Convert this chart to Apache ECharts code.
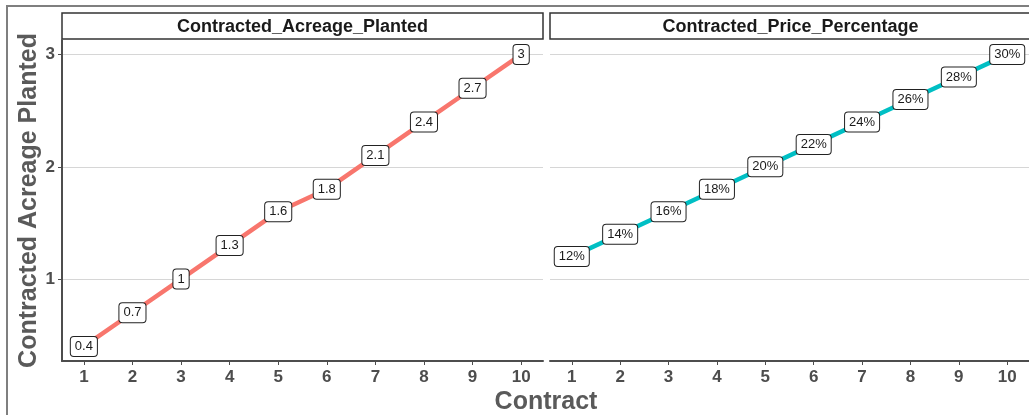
<!DOCTYPE html>
<html>
<head>
<meta charset="utf-8">
<script src="https://cdn.jsdelivr.net/npm/echarts@6/dist/echarts.min.js"></script>
<style>
  html, body { margin: 0; padding: 0; background: #fff; }
  #chart { width: 1029px; height: 415px; }
</style>
</head>
<body>
<div id="chart"></div>
<script>
// Contract number on the x axis
const contracts = [1, 2, 3, 4, 5, 6, 7, 8, 9, 10];
// Acreage planted under contract, per contract
const acreagePlanted = [0.4, 0.7, 1, 1.3, 1.6, 1.8, 2.1, 2.4, 2.7, 3];
// Share of the contracted price, per contract (fractions)
const pricePercentage = [0.12, 0.14, 0.16, 0.18, 0.20, 0.22, 0.24, 0.26, 0.28, 0.30];
// Axis ticks
const xTicks = [1, 2, 3, 4, 5, 6, 7, 8, 9, 10];
const yTicks = [1, 2, 3];
const pctTicks = [0.1, 0.2, 0.3];
// Facet strip titles
const facetTitles = ['Contracted_Acreage_Planted', 'Contracted_Price_Percentage'];

const FONT = '"Liberation Sans", Arial, sans-serif';
const AXIS_GREY = '#4d4d4d';
const GRID_GREY = '#d6d6d6';

const panelLeft = [62, 550];
const panelWidth = 481;
const panelTop = 40;
const panelHeight = 321;

const chart = echarts.init(document.getElementById('chart'));

function xAxisFor(gridIndex) {
  return {
    type: 'value', gridIndex: gridIndex, min: 0.55, max: 10.45,
    axisLine: { show: true, onZero: false, lineStyle: { color: AXIS_GREY, width: 2 } },
    axisTick: { show: true, customValues: xTicks, length: 4, lineStyle: { color: AXIS_GREY, width: 1 } },
    axisLabel: { show: true, customValues: xTicks, margin: 8, color: AXIS_GREY, fontSize: 17, fontWeight: 'bold', fontFamily: FONT },
    splitLine: { show: false }
  };
}

function labelStyle(formatter) {
  return {
    show: true, position: 'inside', formatter: formatter,
    color: '#1a1a1a', fontSize: 13, fontFamily: FONT,
    backgroundColor: '#ffffff', borderColor: '#222', borderWidth: 1, borderRadius: 3,
    padding: [3, 4, 3, 4]
  };
}

const option = {
  animation: false,
  backgroundColor: '#ffffff',
  grid: [
    { left: panelLeft[0], top: panelTop, width: panelWidth, height: panelHeight },
    { left: panelLeft[1], top: panelTop, width: panelWidth, height: panelHeight }
  ],
  xAxis: [xAxisFor(0), xAxisFor(1)],
  yAxis: [
    {
      type: 'value', gridIndex: 0, min: 0.27, max: 3.13,
      name: 'Contracted Acreage Planted', nameLocation: 'middle', nameGap: 19,
      nameTextStyle: { color: '#5a5a5a', fontSize: 25, fontWeight: 'bold', fontFamily: FONT },
      axisLine: { show: true, onZero: false, lineStyle: { color: AXIS_GREY, width: 2 } },
      axisTick: { show: true, customValues: yTicks, length: 4, lineStyle: { color: AXIS_GREY, width: 1 } },
      axisLabel: { show: true, customValues: yTicks, margin: 7, color: AXIS_GREY, fontSize: 17, fontWeight: 'bold', fontFamily: FONT },
      splitLine: { show: true, lineStyle: { color: GRID_GREY, width: 1 } }
    },
    {
      type: 'value', gridIndex: 1, min: 0.027, max: 0.313,
      axisLine: { show: false }, axisTick: { show: false, customValues: pctTicks },
      axisLabel: { show: false, customValues: pctTicks },
      splitLine: { show: true, lineStyle: { color: GRID_GREY, width: 1 } }
    }
  ],
  series: [
    {
      type: 'line', xAxisIndex: 0, yAxisIndex: 0,
      data: contracts.map((c, i) => [c, acreagePlanted[i]]),
      symbol: 'circle', symbolSize: 1,
      itemStyle: { color: '#F8766D' },
      lineStyle: { color: '#F8766D', width: 4.5 },
      label: labelStyle(p => String(p.value[1]))
    },
    {
      type: 'line', xAxisIndex: 1, yAxisIndex: 1,
      data: contracts.map((c, i) => [c, pricePercentage[i]]),
      symbol: 'circle', symbolSize: 1,
      itemStyle: { color: '#00BFC4' },
      lineStyle: { color: '#00BFC4', width: 4.5 },
      label: labelStyle(p => Math.round(p.value[1] * 100) + '%')
    }
  ],
  graphic: [
    // outer frame
    { type: 'rect', shape: { x: 7, y: 6, width: 1100, height: 500 },
      style: { fill: 'none', stroke: '#7f7f7f', lineWidth: 2 }, silent: true },
    // facet strips
    { type: 'rect', shape: { x: panelLeft[0], y: 13, width: panelWidth, height: 26 },
      style: { fill: '#ffffff', stroke: '#333', lineWidth: 1.5 }, silent: true },
    { type: 'rect', shape: { x: panelLeft[1], y: 13, width: panelWidth, height: 26 },
      style: { fill: '#ffffff', stroke: '#333', lineWidth: 1.5 }, silent: true },
    { type: 'text', x: panelLeft[0] + panelWidth / 2, y: 27,
      style: { text: facetTitles[0], fill: '#1a1a1a', font: 'bold 18px ' + FONT, align: 'center', verticalAlign: 'middle' } },
    { type: 'text', x: panelLeft[1] + panelWidth / 2, y: 27,
      style: { text: facetTitles[1], fill: '#1a1a1a', font: 'bold 18px ' + FONT, align: 'center', verticalAlign: 'middle' } },
    // shared x axis title
    { type: 'text', x: 546, y: 402,
      style: { text: 'Contract', fill: '#5a5a5a', font: 'bold 25px ' + FONT, align: 'center', verticalAlign: 'middle' } }
  ]
};

chart.setOption(option);
</script>
</body>
</html>
